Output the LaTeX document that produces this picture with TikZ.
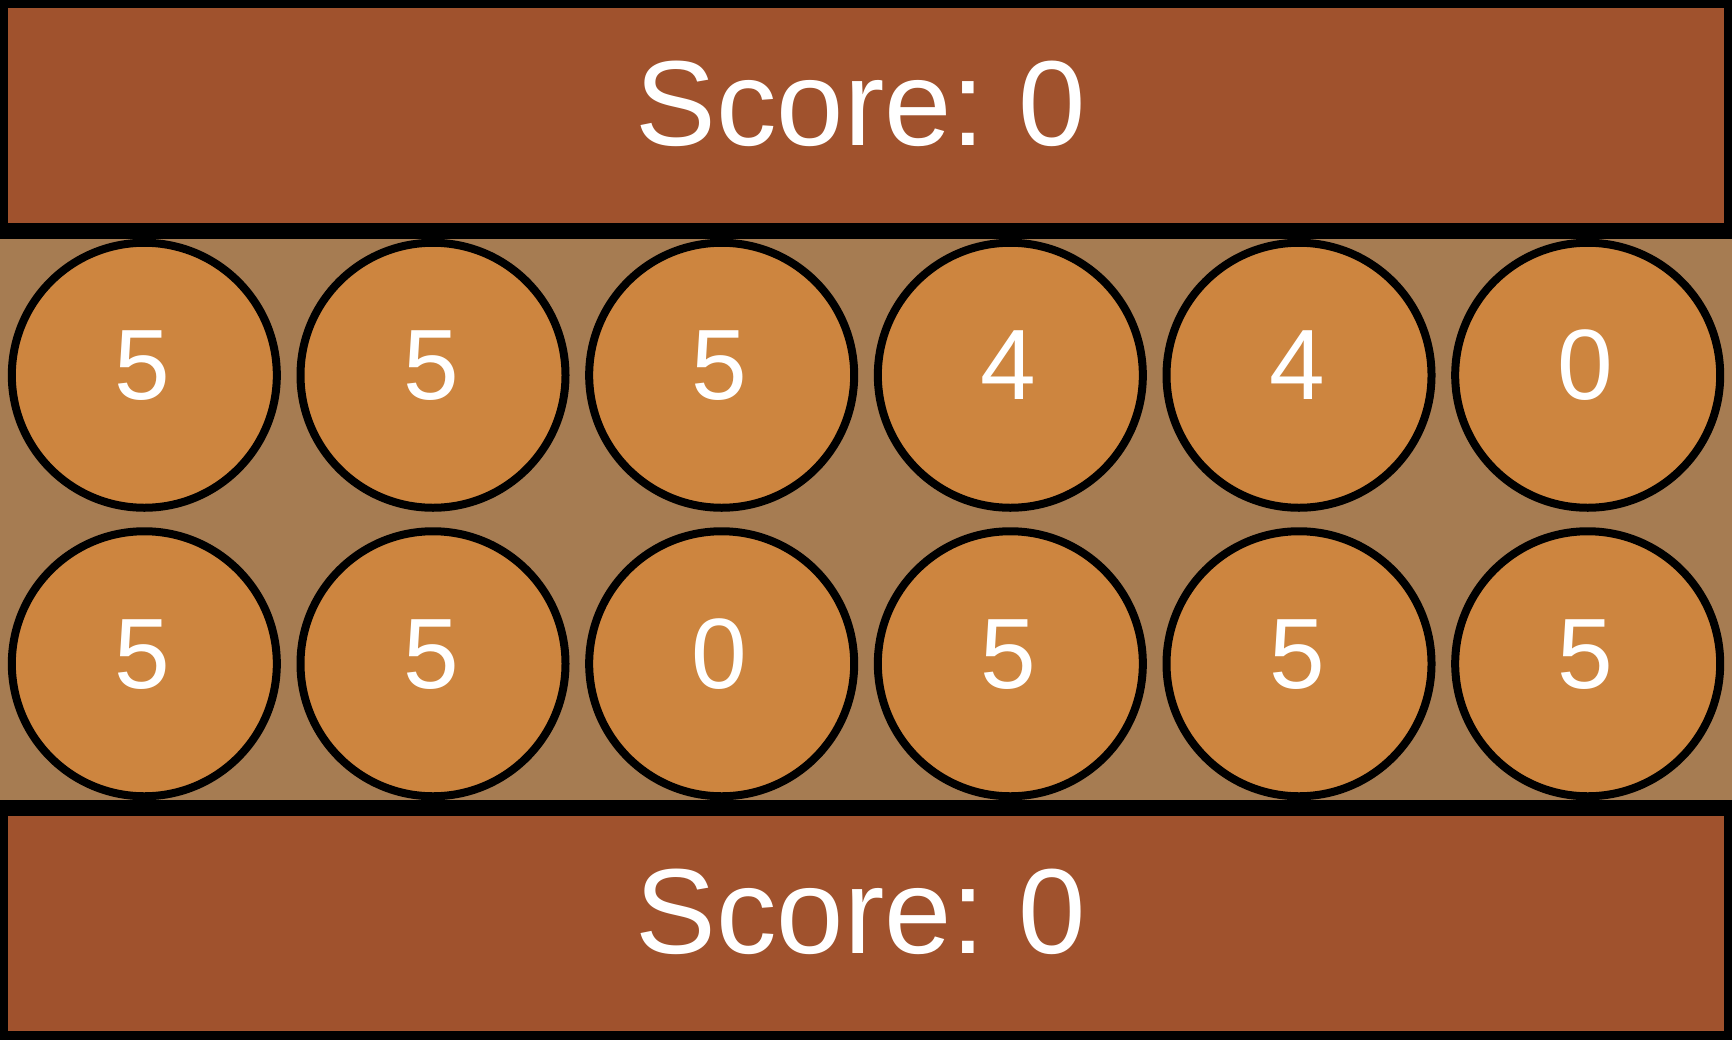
\documentclass[tikz,border=0pt]{standalone}
\usepackage{fontspec}
\setmainfont{Liberation Sans}
\definecolor{panelbrown}{RGB}{160,82,45}
\definecolor{pitorange}{RGB}{205,133,63}
\definecolor{boardtan}{RGB}{166,124,82}
\frenchspacing
\begin{document}
\begin{tikzpicture}[x=1pt,y=-1pt,
  panel/.style={draw=black,fill=panelbrown,line width=16pt,minimum width=1732pt,minimum height=231pt,inner sep=0pt,outer sep=0pt},
  pit/.style={circle,draw=black,fill=pitorange,line width=8pt,minimum size=265pt,inner sep=0pt},
  pitnum/.style={text=white,font=\fontsize{100}{100}\selectfont,anchor=base,inner sep=0pt},
  scoretxt/.style={text=white,font=\fontsize{121}{121}\selectfont\frenchspacing,anchor=base,inner sep=0pt}]
\useasboundingbox (0,0) rectangle (1732,1039);
\clip (0,0) rectangle (1732,1039);
\fill[boardtan] (0,231) rectangle (1732,808);
\node[panel] (top) at (866,115.5) {};
\node[panel] (bottom) at (866,923.5) {};
\node[scoretxt] (topscore) at (861,145) {Score: 0};
\node[scoretxt] (bottomscore) at (861,953) {Score: 0};
\foreach \v [count=\i from 0] in {5,5,5,4,4,0} {
  \node[pit] (a\i) at ({144.33+288.67*\i},375.25) {};
  \node[pitnum] (na\i) at ({142.33+288.67*\i},399.5) {\v};
}
\foreach \v [count=\i from 0] in {5,5,0,5,5,5} {
  \node[pit] (b\i) at ({144.33+288.67*\i},663.75) {};
  \node[pitnum] (nb\i) at ({142.33+288.67*\i},688) {\v};
}
\end{tikzpicture}
\end{document}
